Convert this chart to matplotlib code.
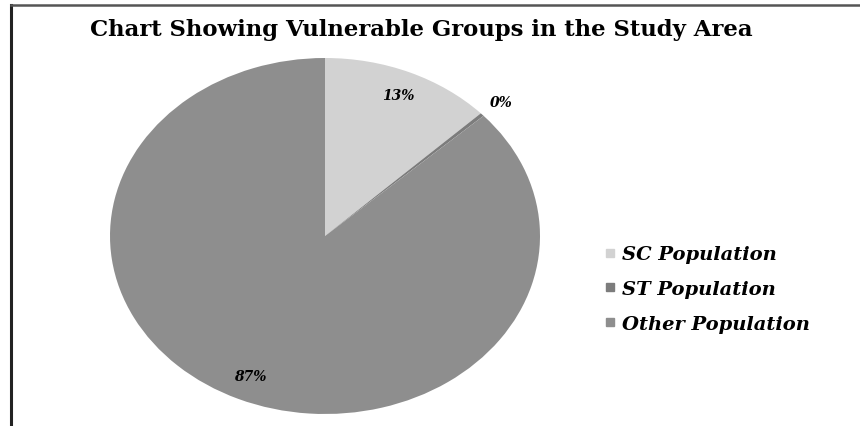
import matplotlib.pyplot as plt
from matplotlib.lines import Line2D

# data
groups = ['SC Population', 'ST Population', 'Other Population']
shares = [12.9, 0.3, 86.8]
colors = ['#d2d2d2', '#7c7c7c', '#8e8e8e']
title = 'Chart Showing Vulnerable Groups in the Study Area'

fig = plt.figure(figsize=(8.6, 4.27), dpi=100)
fig.patch.set_facecolor('white')

# frame lines (left and top only, like the cropped screenshot)
fig.add_artist(Line2D([11/860, 11/860], [0, 1 - 6/427], color='#222222', lw=2.2))
fig.add_artist(Line2D([11/860, 1], [1 - 6/427, 1 - 6/427], color='#555555', lw=1.8))

fig.text(421/860, 1 - 30/427, title, ha='center', va='center',
         fontsize=16.4, fontweight='bold', family='DejaVu Serif')

ax = fig.add_axes([110/860, 12/427, 430/860, 356/427])
wedges, texts, autotexts = ax.pie(shares, colors=colors, startangle=90,
                                  counterclock=False, autopct='%.0f%%',
                                  pctdistance=0.86,
                                  textprops=dict(fontsize=10, fontstyle='italic',
                                                 fontweight='bold',
                                                 family='DejaVu Serif'))
ax.set_aspect('auto')
ax.set_xlim(-1, 1)
ax.set_ylim(-1, 1)

# the tiny ST label sits just outside the rim
autotexts[1].set_position((0.82, 0.75))

handles = [Line2D([], [], marker='s', ls='', color=c, markersize=6) for c in colors]
fig.legend(handles, groups, loc='center left', bbox_to_anchor=(588/860, 1 - 290/427),
           frameon=False, handlelength=0.5, handletextpad=0.35, labelspacing=0.85,
           prop=dict(size=14, style='italic', weight='bold', family='DejaVu Serif'))

fig.savefig('out.png', dpi=100)
